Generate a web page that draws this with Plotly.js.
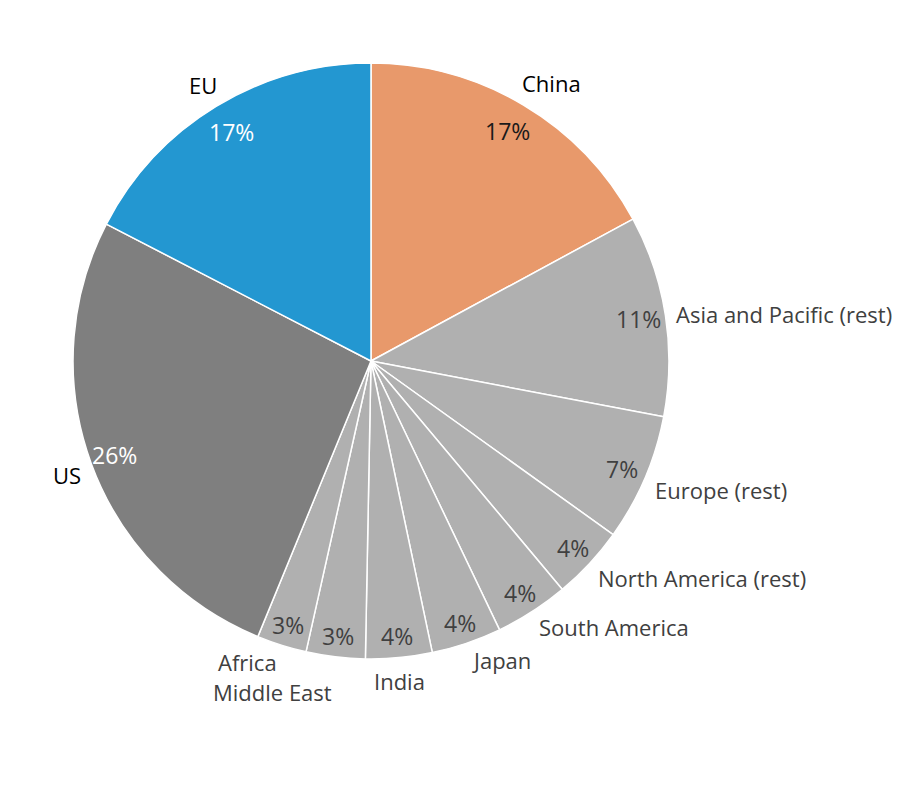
<!DOCTYPE html>
<html>
<head>
<meta charset="utf-8">
<script src="https://cdn.plot.ly/plotly-3.0.1.min.js"></script>
<style>html,body{margin:0;padding:0;background:#fff;}#chart{width:914px;height:786px;}</style>
</head>
<body>
<div id="chart"></div>
<script>
// ---- data ----
const regions = ["China", "Asia and Pacific (rest)", "Europe (rest)", "North America (rest)", "South America", "Japan", "India", "Middle East", "Africa", "US", "EU"];
const shares = [17.1, 10.9, 6.9, 4.0, 4.0, 3.8, 3.6, 3.2, 2.7, 26.4, 17.4];
const shareLabels = ["17%", "11%", "7%", "4%", "4%", "4%", "4%", "3%", "3%", "26%", "17%"];

// ---- styles ----
const sliceColors = ["#E8996B", "#B0B0B0", "#B0B0B0", "#B0B0B0", "#B0B0B0", "#B0B0B0", "#B0B0B0", "#B0B0B0", "#B0B0B0", "#7F7F7F", "#2397D1"];
const pctColors = ["#1a1a1a", "#404040", "#404040", "#404040", "#404040", "#404040", "#404040", "#404040", "#404040", "#ffffff", "#ffffff"];
const labelColors = ["#000000", "#404040", "#404040", "#404040", "#404040", "#404040", "#404040", "#404040", "#404040", "#000000", "#000000"];

const W = 914, H = 786;
const FONT = "Open Sans, Noto Sans, sans-serif";
const LABEL_SIZE = 22, PCT_SIZE = 23;
const dom = {x: [0.0799, 0.7319], y: [0.1616, 0.9198]};

// pie geometry derived from the domain
const cx = (dom.x[0] + dom.x[1]) / 2 * W;
const cy = (1 - (dom.y[0] + dom.y[1]) / 2) * H;
const R = Math.min((dom.x[1] - dom.x[0]) * W, (dom.y[1] - dom.y[0]) * H) / 2;

const total = shares.reduce((a, b) => a + b, 0);
let cum = 0;
const mids = shares.map(v => { const m = (cum + v / 2) / total * 2 * Math.PI; cum += v; return m; });

const canvas = document.createElement("canvas");
const ctx = canvas.getContext("2d");
ctx.font = LABEL_SIZE + "px 'Open Sans'";

const annotations = [];

// percentages inside, near the outer edge
mids.forEach((a, i) => {
  const r = R * (0.912 - 0.016 * Math.cos(a));
  annotations.push({
    xref: "paper", yref: "paper",
    x: (cx + r * Math.sin(a)) / W, y: 1 - (cy - r * Math.cos(a)) / H,
    xanchor: "center", yanchor: "middle",
    text: shareLabels[i], showarrow: false,
    font: {family: FONT, size: PCT_SIZE, color: pctColors[i]}
  });
});

// category labels outside, with a simple overlap pass
const placed = [];
const bh = 29;
for (let k = mids.length - 1; k >= 0; k--) {
  const a = mids[k];
  const s = Math.sin(a), c = Math.cos(a);
  const r = R + 9;
  let ax = cx + r * s, ay = cy - r * c;
  const xa = s > 0.1 ? "left" : (s < -0.1 ? "right" : "center");
  if (c > 0.3) { ay -= 14; ax -= 8 * Math.sign(s); }
  else if (xa === "center" && c < 0) { ay += bh / 2; }
  else if (c < -0.3 || (c < 0 && Math.abs(s) < 0.95)) { ay += 8; }
  const w = ctx.measureText(regions[k]).width;
  const x0 = xa === "left" ? ax : (xa === "right" ? ax - w : ax - w / 2);
  const dir = c < 0 ? 1 : -1;
  const hit = () => placed.some(b => x0 < b.x1 && x0 + w > b.x0 && ay - bh / 2 < b.y1 && ay + bh / 2 > b.y0);
  let guard = 0;
  while (hit() && guard++ < 200) { ay += dir; }
  placed.push({x0: x0, x1: x0 + w, y0: ay - bh / 2, y1: ay + bh / 2});
  annotations.push({
    xref: "paper", yref: "paper",
    x: ax / W, y: 1 - ay / H,
    xanchor: xa, yanchor: "middle",
    text: regions[k], showarrow: false,
    font: {family: FONT, size: LABEL_SIZE, color: labelColors[k]}
  });
}

const pie = {
  type: "pie",
  labels: regions,
  values: shares,
  sort: false,
  direction: "clockwise",
  rotation: 0,
  domain: dom,
  marker: {colors: sliceColors, line: {color: "#ffffff", width: 1.5}},
  textinfo: "none",
  hoverinfo: "none",
  showlegend: false,
  automargin: false
};

Plotly.newPlot("chart", [pie], {
  width: W,
  height: H,
  margin: {l: 0, r: 0, t: 0, b: 0},
  paper_bgcolor: "#ffffff",
  showlegend: false,
  annotations: annotations
}, {staticPlot: true});
</script>
</body>
</html>
